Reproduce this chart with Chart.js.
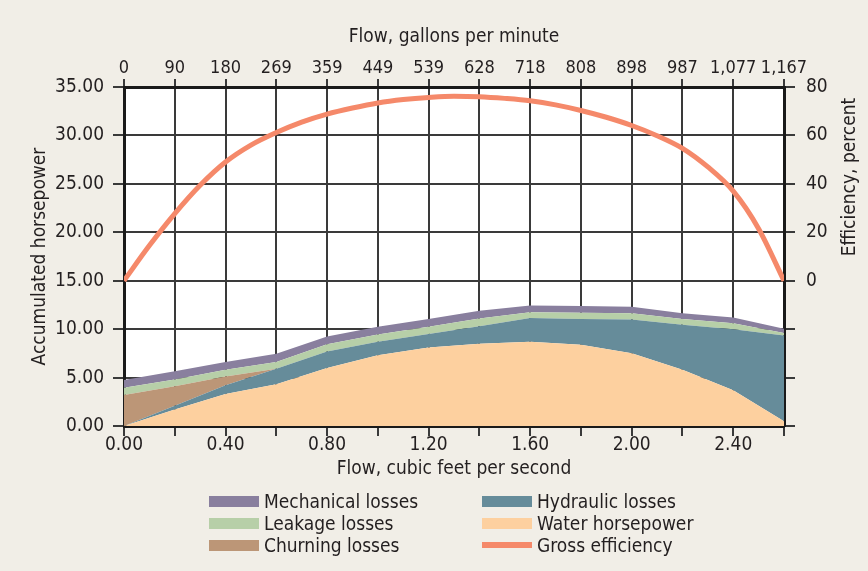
<!DOCTYPE html>
<html>
<head>
<meta charset="utf-8">
<script src="https://cdn.jsdelivr.net/npm/chart.js@4"></script>
<style>
  html, body { margin: 0; padding: 0; background: #f1eee7; }
  #wrap { position: relative; width: 868px; height: 571px; }
  canvas { display: block; }
  #legend {
    position: absolute; left: 0; top: 0; width: 868px; height: 571px; pointer-events: none;
    font-family: 'DejaVu Sans Condensed', 'Liberation Sans Narrow', sans-serif;
    font-size: 19px; color: #231f20;
  }
  .item { position: absolute; height: 22px; line-height: 22px; white-space: nowrap; }
  .sw { position: absolute; left: 0; width: 50px; }
  .txt { position: absolute; left: 55px; top: 0; }
</style>
</head>
<body>
<div id="wrap">
  <canvas id="pumpChart" width="868" height="571"></canvas>
  <div id="legend"></div>
</div>
<script>
// ── DATA ──
const flowCfs        = [0, 0.2, 0.4, 0.6, 0.8, 1.0, 1.2, 1.4, 1.6, 1.8, 2.0, 2.2, 2.4, 2.6];
const waterHp        = [0, 1.7, 3.3, 4.3, 6.0, 7.3, 8.1, 8.5, 8.7, 8.4, 7.5, 5.8, 3.7, 0.5];
const hydraulicLoss  = [0, 0.4, 0.9, 1.6, 1.7, 1.4, 1.4, 1.8, 2.45, 2.65, 3.5, 4.65, 6.3, 8.85];
const churningLoss   = [3.2, 2.0, 0.9, 0, 0, 0, 0, 0, 0, 0, 0, 0, 0, 0];
const leakageLoss    = [0.75, 0.7, 0.7, 0.7, 0.75, 0.75, 0.75, 0.8, 0.6, 0.65, 0.65, 0.6, 0.6, 0.25];
const mechanicalLoss = [0.8, 0.85, 0.8, 0.85, 0.8, 0.8, 0.8, 0.8, 0.7, 0.7, 0.65, 0.6, 0.6, 0.45];

const effFlow  = [0, 0.1, 0.2, 0.3, 0.4, 0.5, 0.6, 0.7, 0.8, 0.9, 1.0, 1.1, 1.2, 1.3, 1.4,
                  1.5, 1.6, 1.7, 1.8, 1.9, 2.0, 2.1, 2.2, 2.3, 2.4, 2.5, 2.6];
const grossEff = [0, 14.5, 27.7, 39.4, 49.0, 56.0, 61.2, 65.5, 68.8, 71.3, 73.4, 74.8, 75.7, 76.2, 76.0,
                  75.3, 74.3, 72.6, 70.3, 67.5, 64.1, 59.9, 54.7, 47.0, 37.0, 21.5, 0];

const gpmLabels = ['0', '90', '180', '269', '359', '449', '539', '628', '718', '808', '898', '987', '1,077', '1,167'];

// ── STYLE ──
const FONT = "'DejaVu Sans Condensed', 'Liberation Sans Narrow', sans-serif";
const INK = '#231f20';
const GRID = '#3a3a3a';
const AXIS = '#1a1a1a';
const colors = {
    mechanical: '#897f9e',
    leakage: '#b7cfa8',
    churning: '#bc9677',
    hydraulic: '#668c9a',
    water: '#fdd09f',
    efficiency: '#f5896a'
};

Chart.defaults.font.family = FONT;
Chart.defaults.font.size = 19;
Chart.defaults.color = INK;

const pts = (xs, ys) => xs.map((x, i) => ({ x, y: ys[i] }));

function area(label, values, color, fill) {
    return {
        label, data: pts(flowCfs, values), fill,
        backgroundColor: color, borderColor: color, borderWidth: 0,
        pointRadius: 0, tension: 0, xAxisID: 'x', yAxisID: 'y', order: 1
    };
}

const whitePlot = {
    id: 'whitePlot',
    beforeDraw(chart) {
        const { ctx, chartArea: a } = chart;
        ctx.save();
        ctx.fillStyle = '#ffffff';
        ctx.fillRect(a.left, a.top, a.right - a.left, a.bottom - a.top);
        ctx.restore();
    }
};

// right axis title reads bottom-to-top like the left one
const rightTitle = {
    id: 'rightTitle',
    afterDraw(chart) {
        const { ctx } = chart;
        ctx.save();
        ctx.translate(850, 177);
        ctx.rotate(-Math.PI / 2);
        ctx.textAlign = 'center';
        ctx.textBaseline = 'middle';
        ctx.font = '19px ' + FONT;
        ctx.fillStyle = INK;
        ctx.fillText('Efficiency, percent', 0, 0);
        ctx.restore();
    }
};

new Chart(document.getElementById('pumpChart'), {
    type: 'line',
    data: {
        datasets: [
            area('Water horsepower', waterHp, colors.water, 'origin'),
            area('Hydraulic losses', hydraulicLoss, colors.hydraulic, '-1'),
            area('Churning losses', churningLoss, colors.churning, '-1'),
            area('Leakage losses', leakageLoss, colors.leakage, '-1'),
            area('Mechanical losses', mechanicalLoss, colors.mechanical, '-1'),
            {
                label: 'Gross efficiency',
                data: pts(effFlow, grossEff),
                xAxisID: 'x', yAxisID: 'y1',
                borderColor: colors.efficiency, borderWidth: 5,
                pointRadius: 0, fill: false,
                cubicInterpolationMode: 'monotone', order: 0
            }
        ]
    },
    options: {
        responsive: false,
        animation: false,
        layout: { padding: 0 },
        plugins: { legend: { display: false }, tooltip: { enabled: false } },
        scales: {
            x: {
                type: 'linear', position: 'bottom', min: 0, max: 2.6,
                ticks: { stepSize: 0.2, autoSkip: false, maxRotation: 0, padding: -2,
                         callback: (v, i) => (i % 2 === 0 ? v.toFixed(2) : '') },
                grid: { color: GRID, lineWidth: 2, tickLength: 10, tickColor: GRID },
                border: { color: AXIS, width: 3 },
                title: { display: true, text: 'Flow, cubic feet per second', padding: { top: 0, bottom: 91 } },
                afterFit: s => { s.height = 145; }
            },
            x2: {
                type: 'linear', position: 'top', min: 0, max: 2.6,
                ticks: { stepSize: 0.2, autoSkip: false, maxRotation: 0, padding: 0,
                         font: { size: 18 },
                         callback: (v, i) => gpmLabels[i] },
                grid: { drawOnChartArea: false, color: GRID, lineWidth: 2, tickLength: 8 },
                border: { color: AXIS, width: 3 },
                title: { display: true, text: 'Flow, gallons per minute', padding: { top: 26, bottom: 0 } },
                afterFit: s => { s.height = 87; }
            },
            y: {
                type: 'linear', position: 'left', stacked: true, min: 0, max: 35,
                ticks: { stepSize: 5, padding: 9, callback: v => v.toFixed(2) },
                grid: { color: GRID, lineWidth: 2, tickLength: 11 },
                border: { color: AXIS, width: 3 },
                title: { display: true, text: 'Accumulated horsepower', padding: { top: 29, bottom: 0 } },
                afterFit: s => { s.width = 124; }
            },
            y1: {
                type: 'linear', position: 'right', min: -60, max: 80,
                ticks: { stepSize: 20, padding: 11, callback: v => (v < 0 ? '' : String(v)) },
                grid: { drawOnChartArea: false, color: GRID, lineWidth: 2, tickLength: 11 },
                border: { color: AXIS, width: 3 },
                afterFit: s => { s.width = 84; }
            }
        }
    },
    plugins: [whitePlot, rightTitle]
});

// ── LEGEND (two columns, three rows) ──
const legendItems = [
    { label: 'Mechanical losses', color: colors.mechanical, col: 0, row: 0 },
    { label: 'Leakage losses', color: colors.leakage, col: 0, row: 1 },
    { label: 'Churning losses', color: colors.churning, col: 0, row: 2 },
    { label: 'Hydraulic losses', color: colors.hydraulic, col: 1, row: 0 },
    { label: 'Water horsepower', color: colors.water, col: 1, row: 1 },
    { label: 'Gross efficiency', color: colors.efficiency, col: 1, row: 2, line: true }
];
const legendEl = document.getElementById('legend');
legendItems.forEach(it => {
    const el = document.createElement('div');
    el.className = 'item';
    el.style.left = (it.col === 0 ? 209 : 482) + 'px';
    el.style.top = (490 + it.row * 22) + 'px';
    const h = it.line ? 6 : 11;
    el.innerHTML = '<span class="sw" style="background:' + it.color + ';height:' + h + 'px;top:' + ((22 - h) / 2) + 'px"></span>' +
                   '<span class="txt">' + it.label + '</span>';
    legendEl.appendChild(el);
});
</script>
</body>
</html>
